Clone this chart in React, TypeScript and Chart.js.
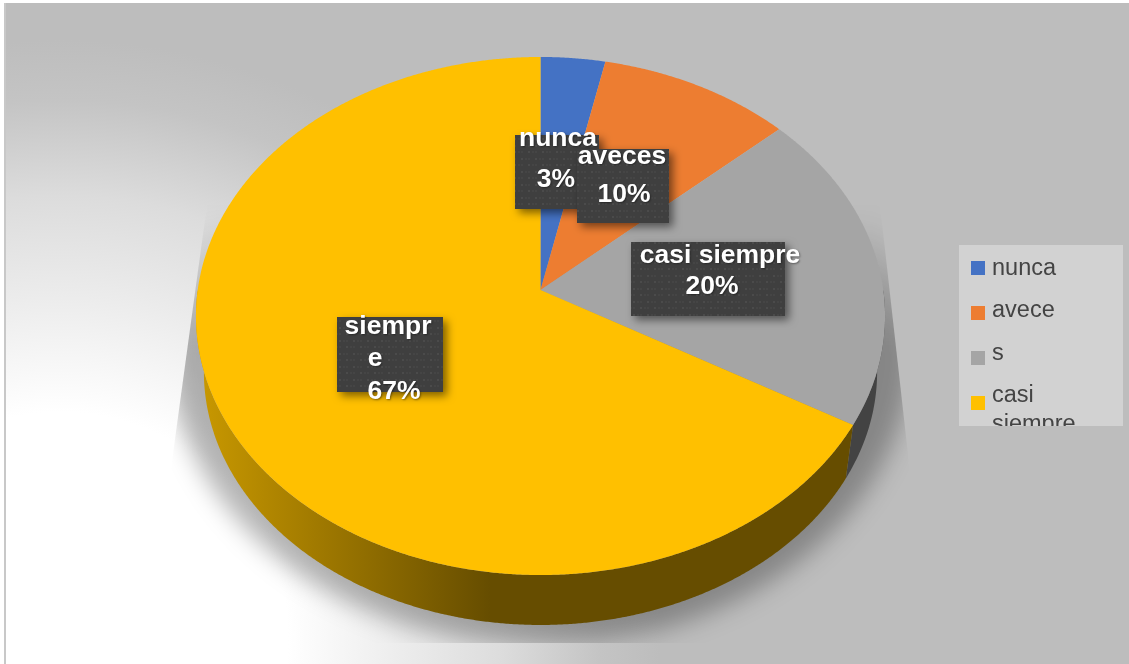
import React, { useEffect, useRef } from "react";
import { Chart, registerables } from "chart.js";

Chart.register(...registerables);

const categories = ["nunca", "aveces", "casi siempre", "siempre"];
const counts = [1, 3, 6, 20];
const sliceColors = ["#4472C4", "#ED7D31", "#A5A5A5", "#FFC000"];
const legendLines = [["nunca"], ["avece", "s"], ["casi", "siempre"]];

const FONT = '"Liberation Sans", Arial, sans-serif';
const CX = 540.5, Y_TOP = 290, Y_LOW = 346.5, R = 342.8, K = 256.4, P = 0.1004, LOW = 0.977;

function project(a: number, lower: boolean) {
  const u = Math.cos(a), v = -Math.sin(a);
  const w = 1 + P * v;
  const s = lower ? LOW : 1;
  return { x: CX + (s * R * u) / w, y: (lower ? Y_LOW : Y_TOP) - (s * K * v) / w };
}

function paintBackground(ctx: CanvasRenderingContext2D, w: number, h: number) {
  ctx.fillStyle = "#ffffff";
  ctx.fillRect(0, 0, w, h);
  const g = ctx.createRadialGradient(60, 640, 0, 60, 640, 600);
  g.addColorStop(0, "#ffffff");
  g.addColorStop(0.38, "#ffffff");
  g.addColorStop(0.57, "#ececec");
  g.addColorStop(0.74, "#dcdcdc");
  g.addColorStop(0.9, "#c4c4c4");
  g.addColorStop(1, "#bdbdbd");
  ctx.fillStyle = g;
  ctx.fillRect(4, 3, w - 4, h - 3);
  ctx.fillStyle = "#c8c8c8";
  ctx.fillRect(4, 3, 2, h - 3);
  // cast shadow, fading out towards the back of the pie
  ctx.save();
  ctx.beginPath();
  ctx.moveTo(207, 205);
  ctx.lineTo(168, 490);
  ctx.lineTo(168, 643);
  ctx.lineTo(912, 643);
  ctx.lineTo(912, 490);
  ctx.lineTo(880, 205);
  ctx.closePath();
  ctx.clip();
  (ctx as any).filter = "blur(12px)";
  const fade = ctx.createLinearGradient(0, 215, 0, 340);
  fade.addColorStop(0, "rgba(0,0,0,0)");
  fade.addColorStop(1, "rgba(0,0,0,0.29)");
  ctx.fillStyle = fade;
  ctx.beginPath();
  ctx.ellipse(CX, 345, 372, 300, 0, 0, Math.PI * 2);
  ctx.fill();
  ctx.restore();
}

function paintPie(chart: any) {
  const ctx: CanvasRenderingContext2D = chart.ctx;
  const arcs = chart.getDatasetMeta(0).data;
  const sideYellow = ctx.createLinearGradient(200, 0, 490, 0);
  sideYellow.addColorStop(0, "#c89800");
  sideYellow.addColorStop(1, "#664d00");
  const sideFills: any[] = ["#2f4d84", "#a3551f", "#434343", sideYellow];
  const norm = (a: number) => {
    let x = a;
    while (x < -Math.PI / 2) x += Math.PI * 2;
    return x;
  };
  arcs.forEach((arc: any, i: number) => {
    const from = Math.max(norm(arc.startAngle), 0);
    const to = Math.min(norm(arc.startAngle) + (arc.endAngle - arc.startAngle), Math.PI);
    if (to <= from) return; // slice lies on the hidden back of the rim
    const steps = Math.ceil((to - from) / 0.005);
    ctx.beginPath();
    for (let s = 0; s <= steps; s++) {
      const q = project(from + ((to - from) * s) / steps, false);
      if (s) ctx.lineTo(q.x, q.y);
      else ctx.moveTo(q.x, q.y);
    }
    for (let s = steps; s >= 0; s--) {
      const q = project(from + ((to - from) * s) / steps, true);
      ctx.lineTo(q.x, q.y);
    }
    ctx.closePath();
    ctx.fillStyle = sideFills[i];
    ctx.fill();
  });
  arcs.forEach((arc: any, i: number) => {
    const steps = Math.ceil((arc.endAngle - arc.startAngle) / 0.005);
    ctx.beginPath();
    ctx.moveTo(CX, Y_TOP);
    for (let s = 0; s <= steps; s++) {
      const q = project(arc.startAngle + ((arc.endAngle - arc.startAngle) * s) / steps, false);
      ctx.lineTo(q.x, q.y);
    }
    ctx.closePath();
    ctx.fillStyle = arc.options.backgroundColor;
    ctx.fill();
  });
}

function makeTexture() {
  const c = document.createElement("canvas");
  c.width = 14;
  c.height = 13;
  const t = c.getContext("2d")!;
  t.fillStyle = "#3f3f3f";
  t.fillRect(0, 0, 14, 13);
  t.fillStyle = "#4b4b4b";
  [[3, 2], [10, 8]].forEach(([x, y]) => t.fillRect(x, y, 2, 2));
  t.fillStyle = "#454545";
  [[7, 2], [0, 8], [3, 8], [10, 2]].forEach(([x, y]) => t.fillRect(x, y, 2, 2));
  return c;
}

const labelBoxes = [
  { i: 0, x: 515, y: 135, w: 84, h: 74, name: [{ t: "nunca", x: 558, y: 146 }], pct: { x: 556, y: 187 } },
  { i: 1, x: 577, y: 149, w: 92, h: 74, name: [{ t: "aveces", x: 622, y: 164 }], pct: { x: 624, y: 202 } },
  { i: 2, x: 631, y: 242, w: 154, h: 74, name: [{ t: "casi siempre", x: 720, y: 263 }], pct: { x: 712, y: 294 } },
  { i: 3, x: 337, y: 317, w: 106, h: 75, name: [{ t: "siempr", x: 388, y: 334 }, { t: "e", x: 375, y: 366 }], pct: { x: 394, y: 399 } },
];

function paintLabels(ctx: CanvasRenderingContext2D, total: number) {
  const texture = ctx.createPattern(makeTexture(), "repeat")!;
  labelBoxes.forEach((b) => {
    ctx.save();
    ctx.shadowColor = "rgba(0,0,0,0.5)";
    ctx.shadowBlur = 8;
    ctx.shadowOffsetX = 4;
    ctx.shadowOffsetY = 4;
    ctx.fillStyle = texture;
    ctx.fillRect(b.x, b.y, b.w, b.h);
    ctx.restore();
    ctx.save();
    ctx.fillStyle = "#ffffff";
    ctx.font = `bold 26.5px ${FONT}`;
    ctx.textAlign = "center";
    ctx.textBaseline = "alphabetic";
    ctx.shadowColor = "rgba(0,0,0,0.4)";
    ctx.shadowBlur = 2;
    ctx.shadowOffsetX = 1;
    ctx.shadowOffsetY = 1;
    b.name.forEach((n) => ctx.fillText(n.t, n.x, n.y));
    ctx.fillText(`${Math.round((counts[b.i] / total) * 100)}%`, b.pct.x, b.pct.y);
    ctx.restore();
  });
}

function paintLegend(ctx: CanvasRenderingContext2D) {
  const [lx, ly, lw, lh] = [959, 245, 164, 181];
  ctx.save();
  ctx.fillStyle = "#d2d2d2";
  ctx.fillRect(lx, ly, lw, lh);
  ctx.beginPath();
  ctx.rect(lx, ly, lw, lh);
  ctx.clip();
  const squares = [261, 306, 351, 396];
  squares.forEach((y, i) => {
    ctx.fillStyle = sliceColors[i];
    ctx.fillRect(971, y, 14, 14);
  });
  ctx.fillStyle = "#444444";
  ctx.font = `23.5px ${FONT}`;
  const baselines = [[275], [317, 360], [402, 431]];
  legendLines.forEach((lines, i) =>
    lines.forEach((t, j) => ctx.fillText(t, 992, baselines[i][j]))
  );
  ctx.restore();
}

const scenePlugin = {
  id: "scene",
  beforeDraw(chart: any) {
    paintBackground(chart.ctx, chart.width, chart.height);
  },
  beforeDatasetsDraw(chart: any) {
    paintPie(chart);
    return false;
  },
  afterDraw(chart: any) {
    const total = counts.reduce((a, b) => a + b, 0);
    paintLabels(chart.ctx, total);
    paintLegend(chart.ctx);
  },
};

export default function App() {
  const ref = useRef<HTMLCanvasElement>(null);
  useEffect(() => {
    const chart = new Chart(ref.current!, {
      type: "pie",
      data: {
        labels: categories,
        datasets: [{ data: counts, backgroundColor: sliceColors, borderWidth: 0 }],
      },
      options: {
        responsive: false,
        animation: false,
        devicePixelRatio: 1,
        plugins: { legend: { display: false }, tooltip: { enabled: false } },
      },
      plugins: [scenePlugin],
    } as any);
    return () => chart.destroy();
  }, []);
  return (
    <canvas
      ref={ref}
      width={1129}
      height={664}
      style={{ position: "absolute", left: 0, top: 0, display: "block" }}
    />
  );
}
